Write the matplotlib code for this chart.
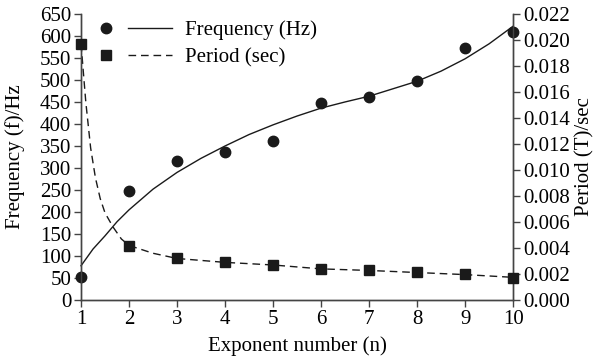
import matplotlib
matplotlib.use('Agg')
import matplotlib.pyplot as plt
from matplotlib.ticker import FormatStrFormatter

plt.rcParams['font.family'] = ['Liberation Serif', 'DejaVu Serif']
plt.rcParams['font.size'] = 15

# measured points
n = [1, 2, 3, 4, 5, 6, 7, 8, 9, 10]
freq = [53, 247, 316, 336, 361, 448, 461, 498, 573, 609]
period = [0.0197, 0.00415, 0.00325, 0.00295, 0.0027, 0.00236, 0.0023, 0.00213, 0.00198, 0.00172]

# fitted curves
fit_n_freq = [1, 1.25, 1.5, 1.75, 2, 2.5, 3, 3.5, 4, 4.5, 5, 5.5, 6, 6.5, 7, 7.5, 8, 8.5, 9, 9.5, 10]
fit_freq = [78, 116, 146, 178, 205, 252, 290, 322, 350, 376, 398, 418, 436, 450, 463, 480, 497, 520, 548, 582, 622]
fit_n_period = [1, 1.1, 1.2, 1.3, 1.4, 1.5, 1.67, 1.84, 2, 2.5, 3, 4, 5, 6, 7, 8, 9, 10]
fit_period = [0.0197, 0.0152, 0.0117, 0.0094, 0.0078, 0.0067, 0.0056, 0.0047, 0.0042, 0.0036, 0.0032,
              0.0029, 0.0027, 0.0024, 0.00228, 0.00212, 0.00196, 0.00175]

ink = '#1a1a1a'

fig = plt.figure(figsize=(5.98, 3.56), dpi=100)
ax = fig.add_axes([0.1355, 0.157, 0.7225, 0.804])
ax2 = ax.twinx()

f_pts, = ax.plot(n, freq, 'o', color=ink, ms=7.5, clip_on=False, zorder=5)
f_line, = ax.plot(fit_n_freq, fit_freq, '-', color=ink, lw=1.0, clip_on=False)
p_pts, = ax2.plot(n, period, 's', color=ink, ms=7, clip_on=False, zorder=5)
p_line, = ax2.plot(fit_n_period, fit_period, '--', color=ink, lw=1.0, dashes=(5.5, 3.5), clip_on=False)

ax.set_xlim(1, 10)
ax.set_ylim(0, 650)
ax2.set_ylim(0, 0.022)
ax.set_xticks(range(1, 11))
ax.set_yticks(range(0, 651, 50))
ax2.set_yticks([i * 0.002 for i in range(12)])
ax2.yaxis.set_major_formatter(FormatStrFormatter('%.3f'))

for a in (ax, ax2):
	a.spines['top'].set_visible(False)
	for s in a.spines.values():
		s.set_color('#444444')
		s.set_linewidth(1.0)
	a.tick_params(direction='out', length=5, width=1.0, color='#444444', pad=2, labelsize=15)

ax.set_xlabel('Exponent number (n)', labelpad=5)
ax.set_ylabel('Frequency (f)/Hz', labelpad=11)
ax2.set_ylabel('Period (T)/sec', labelpad=4)

leg = ax.legend([f_pts, p_pts, f_line, p_line], ['', '', 'Frequency (Hz)', 'Period (sec)'],
	ncol=2, frameon=False, loc='upper left', bbox_to_anchor=(-0.016, 1.014), borderpad=0,
	handlelength=2.1, handletextpad=0.63, columnspacing=-0.63, labelspacing=0.36, fontsize=15)

fig.savefig('out.png', dpi=100)
